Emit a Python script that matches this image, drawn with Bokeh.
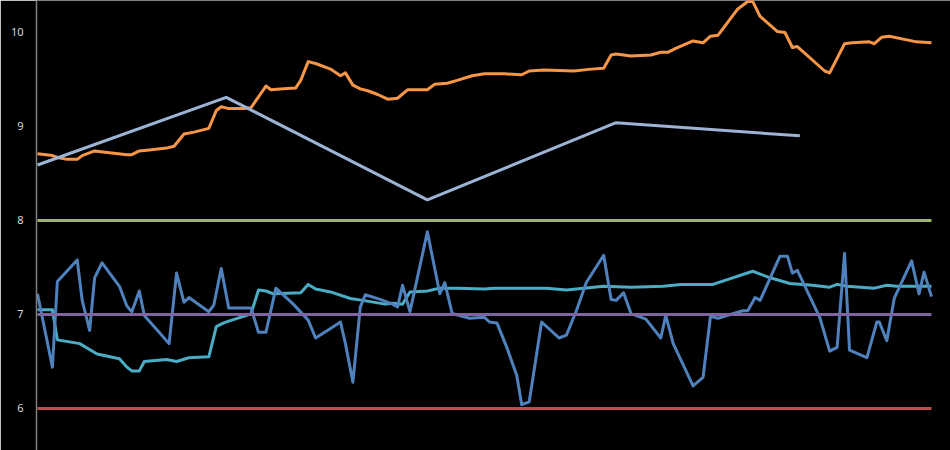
from bokeh.plotting import figure
from bokeh.models import Range1d, FixedTicker
from bokeh.embed import file_html
from bokeh.resources import INLINE

# ---- data (x = time index, y = value) ----
orange_x = [0, 6, 8, 12, 16, 18, 23, 29, 36, 38, 41, 45, 52, 55, 59, 63, 69, 72, 74, 77,
            83, 86, 92, 94, 99, 104, 106, 109, 112, 118, 122, 124, 127, 130, 133, 137, 141,
            145, 149, 157, 160, 165, 169, 175, 180, 188, 195, 198, 204, 216, 223, 228, 231,
            233, 239, 247, 251, 254, 257, 264, 268, 271, 274, 282, 286, 288, 291, 298, 301,
            304, 306, 317, 319, 325, 328, 335, 337, 340, 343, 354, 360]
orange_y = [8.71, 8.69, 8.67, 8.65, 8.65, 8.69, 8.74, 8.72, 8.70, 8.70, 8.74, 8.75, 8.77,
            8.79, 8.92, 8.94, 8.98, 9.17, 9.21, 9.19, 9.19, 9.20, 9.43, 9.39, 9.40, 9.41,
            9.49, 9.69, 9.67, 9.61, 9.54, 9.57, 9.44, 9.40, 9.38, 9.34, 9.29, 9.30, 9.39,
            9.39, 9.45, 9.46, 9.49, 9.54, 9.56, 9.56, 9.55, 9.59, 9.60, 9.59, 9.61, 9.62,
            9.76, 9.77, 9.75, 9.76, 9.79, 9.79, 9.83, 9.91, 9.89, 9.96, 9.97, 10.25, 10.33,
            10.33, 10.17, 10.01, 10.00, 9.84, 9.85, 9.59, 9.57, 9.88, 9.89, 9.90, 9.88,
            9.95, 9.96, 9.90, 9.89]

slate_x = [0, 76, 157, 233, 307]
slate_y = [8.59, 9.31, 8.22, 9.04, 8.90]

blue_x = [0, 6, 8, 16, 18, 21, 23, 26, 33, 36, 38, 41, 43, 53, 56, 59, 61, 69, 71, 74,
          77, 86, 89, 92, 96, 103, 109, 112, 118, 122, 124, 127, 130, 132, 138, 143, 145,
          147, 150, 157, 162, 164, 167, 174, 180, 182, 185, 189, 193, 195, 198, 203, 210,
          213, 217, 221, 228, 231, 233, 236, 239, 245, 251, 253, 256, 264, 268, 271, 274,
          279, 284, 286, 289, 291, 299, 302, 304, 306, 315, 319, 322, 325, 327, 334, 338,
          339, 342, 345, 352, 355, 357, 360]
blue_y = [7.22, 6.44, 7.35, 7.58, 7.15, 6.83, 7.39, 7.55, 7.30, 7.09, 7.03, 7.25, 6.99,
          6.69, 7.44, 7.13, 7.18, 7.03, 7.10, 7.49, 7.07, 7.07, 6.81, 6.81, 7.28, 7.11,
          6.94, 6.75, 6.85, 6.92, 6.69, 6.28, 7.08, 7.21, 7.16, 7.11, 7.08, 7.31, 7.03,
          7.88, 7.22, 7.34, 7.01, 6.96, 6.97, 6.92, 6.91, 6.65, 6.35, 6.04, 6.07, 6.92,
          6.75, 6.78, 7.04, 7.34, 7.63, 7.16, 7.15, 7.23, 7.01, 6.95, 6.75, 6.99, 6.69,
          6.24, 6.33, 6.98, 6.96, 7.00, 7.04, 7.04, 7.18, 7.15, 7.62, 7.62, 7.44, 7.47,
          6.97, 6.61, 6.65, 7.65, 6.62, 6.54, 6.92, 6.92, 6.72, 7.17, 7.57, 7.22, 7.45,
          7.19]

teal_x = [0, 6, 8, 17, 24, 33, 36, 38, 41, 43, 52, 56, 61, 69, 72, 75, 77, 83, 86, 89,
          92, 95, 106, 109, 112, 118, 126, 131, 140, 143, 147, 150, 157, 162, 169, 180,
          184, 193, 205, 213, 220, 228, 239, 252, 259, 272, 288, 295, 303, 312, 319, 322,
          326, 337, 342, 346, 360]
teal_y = [7.05, 7.05, 6.73, 6.69, 6.58, 6.53, 6.44, 6.40, 6.40, 6.50, 6.52, 6.50, 6.54,
          6.55, 6.87, 6.91, 6.93, 6.98, 7.01, 7.26, 7.25, 7.22, 7.23, 7.32, 7.27, 7.24,
          7.17, 7.15, 7.11, 7.12, 7.11, 7.24, 7.25, 7.28, 7.28, 7.27, 7.28, 7.28, 7.28,
          7.26, 7.28, 7.30, 7.29, 7.30, 7.32, 7.32, 7.46, 7.39, 7.33, 7.31, 7.29, 7.32,
          7.30, 7.28, 7.31, 7.30, 7.30]

ref_x = [0, 360]
green_y = [8, 8]
purple_y = [7, 7]
red_y = [6, 6]

y_ticks = [6, 7, 8, 9, 10]

# ---- figure ----
p = figure(width=950, height=450, output_backend="svg", toolbar_location=None,
           x_range=Range1d(-0.4, 367.66), y_range=Range1d(5.553, 10.340),
           background_fill_color="black", border_fill_color="black",
           min_border_left=36, min_border_right=0, min_border_top=0, min_border_bottom=0)
p.outline_line_color = None
p.xaxis.visible = False
p.xgrid.visible = False
p.ygrid.visible = False

ax = p.yaxis[0]
ax.ticker = FixedTicker(ticks=y_ticks)
ax.axis_line_color = "#7f7f7f"
ax.axis_line_width = 1.5
ax.major_tick_line_color = None
ax.minor_tick_line_color = None
ax.major_tick_out = 0
ax.major_tick_in = 0
ax.major_label_standoff = 13
ax.major_label_text_color = "#d9d9d9"
ax.major_label_text_font = "Noto Sans"
ax.major_label_text_font_size = "11px"

lw = 3
p.line(teal_x, teal_y, line_color="#4BACC6", line_width=lw, line_join="round")
p.line(blue_x, blue_y, line_color="#4F81BD", line_width=lw, line_join="round")
p.line(orange_x, orange_y, line_color="#F79646", line_width=lw, line_join="round")
p.line(slate_x, slate_y, line_color="#9DB3D5", line_width=lw, line_join="round")
p.line(ref_x, red_y, line_color="#C0504D", line_width=lw)
p.line(ref_x, green_y, line_color="#9BBB59", line_width=lw)
p.line(ref_x, purple_y, line_color="#8064A2", line_width=lw)

open("out.html", "w").write(file_html(p, INLINE))
